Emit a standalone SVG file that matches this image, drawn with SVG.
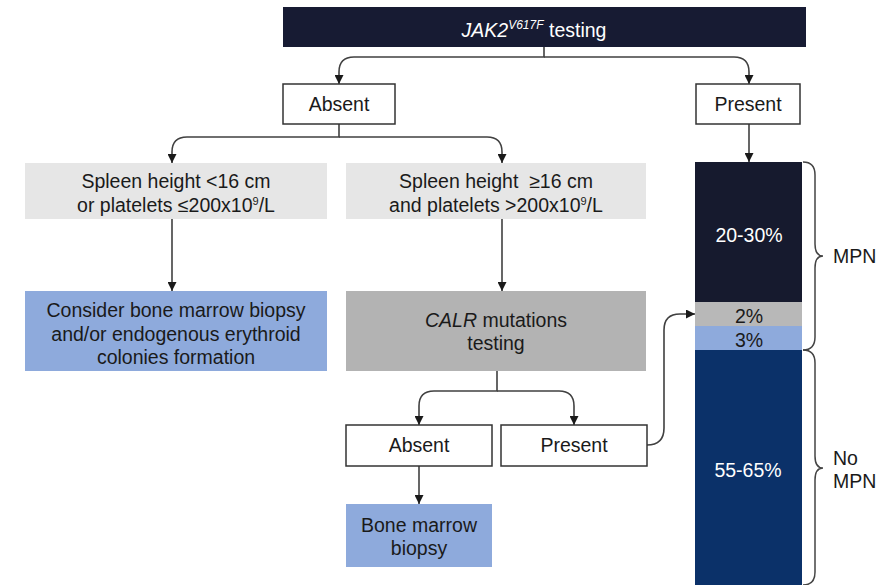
<svg xmlns="http://www.w3.org/2000/svg" width="884" height="585" viewBox="0 0 884 585">
  <defs>
    <marker id="arrow" viewBox="0 0 10 10" refX="10" refY="5" markerWidth="9" markerHeight="9" markerUnits="userSpaceOnUse" orient="auto">
      <path d="M0,0 L10,5 L0,10 z" fill="#1a1a1a"/>
    </marker>
    <style>
      text { font-family: "Liberation Sans", Arial, sans-serif; font-size: 19.5px; fill: #1a1a1a; text-anchor: middle; }
      .white { fill: #ffffff; }
      .outline { fill: #ffffff; stroke: #333333; stroke-width: 1.5; }
      .light { fill: #e6e6e6; }
      .mid { fill: #b3b3b3; }
      .blue { fill: #8eaadc; }
      .conn path { fill: none; stroke: #404040; stroke-width: 1.6; }
      .brace { fill: none; stroke: #444444; stroke-width: 1.5; }
      .left { text-anchor: start; }
    </style>
  </defs>
  <rect width="884" height="585" fill="#ffffff"/>

  <!-- connectors -->
  <g id="connectors" class="conn">
    <path d="M544,47 V57 H354 Q339,57 339,72 V84" marker-end="url(#arrow)"/>
    <path d="M544,57 H734 Q749,57 749,72 V84" marker-end="url(#arrow)"/>
    <path d="M339,124 V137 H187 Q172,137 172,152 V163" marker-end="url(#arrow)"/>
    <path d="M339,137 H487 Q502,137 502,152 V163" marker-end="url(#arrow)"/>
    <path d="M749,124 V162" marker-end="url(#arrow)"/>
    <path d="M172,219 V291" marker-end="url(#arrow)"/>
    <path d="M502,219 V291" marker-end="url(#arrow)"/>
    <path d="M497,371 V391 H434 Q419,391 419,406 V425" marker-end="url(#arrow)"/>
    <path d="M497,391 H559 Q574,391 574,406 V425" marker-end="url(#arrow)"/>
    <path d="M419,466 V504" marker-end="url(#arrow)"/>
    <path d="M647,445 Q664,445 664,428 V330 Q664,314 680,314 H695" marker-end="url(#arrow)"/>
  </g>

  <!-- JAK2 testing header -->
  <g id="jak2">
    <rect x="283" y="7" width="523" height="40" fill="#171b33"/>
    <text x="534" y="37" class="white"><tspan font-style="italic">JAK2</tspan><tspan font-style="italic" font-size="12" dy="-8">V617F</tspan><tspan dy="8"> testing</tspan></text>
  </g>

  <g id="absent1">
    <rect x="283" y="84" width="112" height="40" class="outline"/>
    <text x="339" y="111">Absent</text>
  </g>

  <g id="present1">
    <rect x="696" y="84" width="104" height="40" class="outline"/>
    <text x="748" y="111">Present</text>
  </g>

  <g id="spleen-low">
    <rect x="25" y="163" width="302" height="56" class="light"/>
    <text x="176" y="188">Spleen height &lt;16 cm</text>
    <text x="176" y="212">or platelets ≤200x10<tspan font-size="11" dy="-7">9</tspan><tspan dy="7">/L</tspan></text>
  </g>

  <g id="spleen-high">
    <rect x="346" y="163" width="300" height="56" class="light"/>
    <text x="496" y="188">Spleen height &#160;≥16 cm</text>
    <text x="496" y="212">and platelets &gt;200x10<tspan font-size="11" dy="-7">9</tspan><tspan dy="7">/L</tspan></text>
  </g>

  <g id="consider-biopsy">
    <rect x="25" y="291" width="302" height="80" class="blue"/>
    <text x="176" y="317">Consider bone marrow biopsy</text>
    <text x="176" y="341">and/or endogenous erythroid</text>
    <text x="176" y="364">colonies formation</text>
  </g>

  <g id="calr">
    <rect x="346" y="291" width="300" height="80" class="mid"/>
    <text x="496" y="327"><tspan font-style="italic">CALR</tspan> mutations</text>
    <text x="496" y="350">testing</text>
  </g>

  <g id="absent2">
    <rect x="346" y="425" width="146" height="41" class="outline"/>
    <text x="419" y="452">Absent</text>
  </g>

  <g id="present2">
    <rect x="501" y="425" width="146" height="41" class="outline"/>
    <text x="574" y="452">Present</text>
  </g>

  <g id="bone-marrow-biopsy">
    <rect x="346" y="504" width="146" height="63" class="blue"/>
    <text x="419" y="532">Bone marrow</text>
    <text x="419" y="555">biopsy</text>
  </g>

  <!-- stacked proportion bar -->
  <g id="proportions">
    <rect x="695" y="162" width="107" height="140" fill="#161a2e"/>
    <rect x="695" y="302" width="107" height="24" fill="#b8b8b8"/>
    <rect x="695" y="326" width="107" height="24" fill="#8eaadc"/>
    <rect x="695" y="350" width="107" height="235" fill="#0b3169"/>
    <text x="749" y="242" class="white">20-30%</text>
    <text x="749" y="323">2%</text>
    <text x="749" y="347">3%</text>
    <text x="748" y="477" class="white">55-65%</text>
  </g>

  <g id="mpn">
    <path class="brace" d="M803,162 Q815,162 815,175 L815,244 Q815,256 823,256 Q815,256 815,268 L815,337 Q815,350 803,350"/>
    <text x="833" y="263" class="left">MPN</text>
  </g>

  <g id="no-mpn">
    <path class="brace" d="M803,350 Q815,350 815,363 L815,456 Q815,468 823,468 Q815,468 815,480 L815,572 Q815,585 803,585"/>
    <text x="833" y="465" class="left">No</text>
    <text x="833" y="488" class="left">MPN</text>
  </g>
</svg>
